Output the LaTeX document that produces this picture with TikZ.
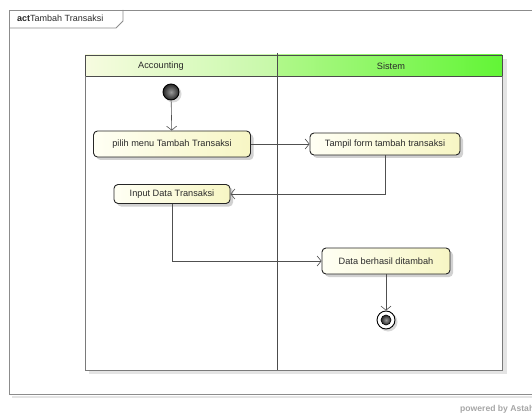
\documentclass[tikz,border=0pt]{standalone}
\usepackage{fontspec}
\setmainfont{Liberation Sans}
\usetikzlibrary{arrows.meta}

\definecolor{framegray}{HTML}{8C8C8C}
\definecolor{shadowgray}{HTML}{E4E4E4}
\definecolor{lanegray}{HTML}{7A7A7A}
\definecolor{textgray}{HTML}{2A2A2A}
\definecolor{actfillA}{HTML}{FFFFF4}
\definecolor{actfillB}{HTML}{F7F6C4}
\definecolor{hdrA}{HTML}{F7FBE0}
\definecolor{hdrB}{HTML}{C6F9A8}
\definecolor{hdrC}{HTML}{B0F88A}
\definecolor{hdrD}{HTML}{62F536}
\definecolor{edgegray}{HTML}{505050}

\tikzset{
  actbox/.style={draw=black!85, line width=0.9pt, rounded corners=4pt,
    left color=actfillA, right color=actfillB, text=textgray,
    font=\fontsize{9.2}{11}\selectfont, inner sep=0pt, align=center},
  flow/.style={draw=edgegray, line width=0.6pt,
    -{Straight Barb[length=4pt,width=10pt,line width=0.6pt]}},
  lanelabel/.style={text=textgray, font=\fontsize{9.2}{11}\selectfont},
}

\begin{document}
\begin{tikzpicture}[x=1pt,y=1pt]
\useasboundingbox (0,0) rectangle (532,-414);
\clip (0,0) rectangle (532,-414);

% outer frame with its light shadow
\draw[shadowgray, line width=1.2pt] (12,-397) -- (540,-397);
\draw[framegray, line width=0.8pt] (540,-10) -- (9,-10) -- (9,-394) -- (540,-394);
% name tab
\draw[framegray, line width=0.8pt] (9,-28) -- (116,-28) -- (123,-21) -- (123,-10);
\node[anchor=base west, inner sep=0pt, text=textgray,
      font=\fontsize{9}{11}\selectfont] (title) at (17,-22)
      {\textbf{act}Tambah Transaksi};

% swimlane shadows
\fill[shadowgray] (89,-370) rectangle (507,-374);
\fill[shadowgray] (502,-59) rectangle (507,-374);

% swimlane headers
\shade[left color=hdrA, right color=hdrB] (85,-55) rectangle (277,-76);
\shade[left color=hdrC, right color=hdrD] (277,-55) rectangle (502,-76);
\draw[black!70, line width=0.8pt] (85,-55) rectangle (502,-76);
\node[lanelabel] (laneA) at (161,-66) {Accounting};
\node[lanelabel] (laneB) at (391,-66) {Sistem};

% swimlane bodies
\draw[lanegray, line width=0.8pt] (85,-76) -- (85,-370) -- (502,-370) -- (502,-76);
\draw[black!70, line width=0.9pt] (277,-53) -- (277,-370);

% action shadows
\foreach \cx/\cy/\w/\h in {172/144/157/26, 172/194/116/19, 385/144/150/22, 386/261/128/26}{
  \fill[black!18, rounded corners=4pt]
    ({\cx-\w/2+3},{-\cy-\h/2-3}) rectangle ({\cx+\w/2+3},{-\cy+\h/2-3});
}

% start and end nodes
\fill[black!15] (173,-94) circle (8.5pt);
\node[circle, draw=black, line width=0.9pt, minimum size=16pt, inner sep=0pt,
      inner color=black!40, outer color=black!85] (start) at (171,-92) {};

% actions
\node[actbox, minimum width=157pt, minimum height=26pt] (a1) at (172,-144)
  {pilih menu Tambah Transaksi};
\node[actbox, minimum width=116pt, minimum height=19pt] (a2) at (172,-194)
  {Input Data Transaksi};
\node[actbox, minimum width=150pt, minimum height=22pt] (a3) at (385,-144)
  {Tampil form tambah transaksi};
\node[actbox, minimum width=128pt, minimum height=26pt] (a4) at (386,-261)
  {Data berhasil ditambah};

\fill[black!15] (388,-322) circle (9.5pt);
\node[circle, draw=black, line width=0.9pt, fill=white, minimum size=18pt,
      inner sep=0pt] (fin) at (386,-320) {};
\node[circle, draw=black, line width=0.6pt, minimum size=10pt, inner sep=0pt,
      inner color=black!40, outer color=black!85] (finc) at (fin.center) {};

% control flows
\draw[flow] (start) -- (a1);
\draw[flow] (a1) -- (a3);
\draw[flow] (a3.south) |- (a2.east);
\draw[flow] (a2.south) |- (a4.west);
\draw[flow] (a4) -- (fin);

% footer
\node[anchor=base west, inner sep=0pt, text=black!35,
      font=\fontsize{8.6}{10}\selectfont\bfseries] (footer) at (460,-411)
      {powered by Astah};
\end{tikzpicture}
\end{document}
